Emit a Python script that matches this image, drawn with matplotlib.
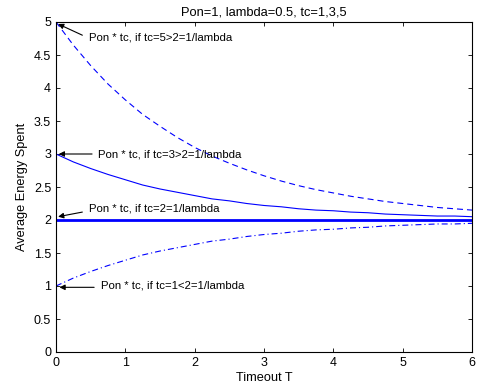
import matplotlib
matplotlib.use("Agg")
import matplotlib.pyplot as plt
from matplotlib.ticker import FormatStrFormatter

plt.rcParams["font.family"] = ["Liberation Sans", "DejaVu Sans"]
plt.rcParams["font.size"] = 9

# values
timeout = [0, 0.25, 0.5, 0.75, 1, 1.25, 1.5, 1.75, 2, 2.25, 2.5, 2.75, 3,
           3.25, 3.5, 3.75, 4, 4.25, 4.5, 4.75, 5, 5.25, 5.5, 5.75, 6]
energy_tc5 = [5.0, 4.65, 4.34, 4.06, 3.82, 3.60, 3.42, 3.25, 3.10, 2.97, 2.86, 2.76, 2.67,
              2.59, 2.52, 2.46, 2.41, 2.36, 2.32, 2.28, 2.25, 2.22, 2.19, 2.17, 2.15]
energy_tc3 = [3.0, 2.88, 2.78, 2.69, 2.61, 2.53, 2.47, 2.42, 2.37, 2.32, 2.29, 2.25, 2.22,
              2.20, 2.17, 2.15, 2.14, 2.12, 2.11, 2.09, 2.08, 2.07, 2.06, 2.06, 2.05]
energy_tc2 = [2.0] * 25
energy_tc1 = [1.0, 1.12, 1.22, 1.31, 1.39, 1.47, 1.53, 1.58, 1.63, 1.68, 1.71, 1.75, 1.78,
              1.80, 1.83, 1.85, 1.86, 1.88, 1.89, 1.91, 1.92, 1.93, 1.94, 1.94, 1.95]

labels = ["Pon * tc, if tc=5>2=1/lambda",
          "Pon * tc, if tc=3>2=1/lambda",
          "Pon * tc, if tc=2=1/lambda",
          "Pon * tc, if tc=1<2=1/lambda"]

fig = plt.figure(figsize=(4.79, 3.87), dpi=100)
ax = fig.add_axes([56 / 479, 35 / 387, 416 / 479, 330 / 387])

blue = (0, 0, 1)
ax.plot(timeout, energy_tc5, color=blue, lw=0.8, linestyle=(0, (5.4, 3.6)))
ax.plot(timeout, energy_tc3, "-", color=blue, lw=0.8)
ax.plot(timeout, energy_tc2, "-", color=blue, lw=2.0)
ax.plot(timeout, energy_tc1, color=blue, lw=0.8, linestyle=(0, (5.4, 2.7, 1, 2.7)))

# annotation text + arrows (text pos, arrow tail, arrow head)
notes = [
    ((0.476, 4.76), (0.38, 4.80), (0.03, 4.97)),
    ((0.606, 2.985), (0.52, 3.0), (0.04, 3.0)),
    ((0.476, 2.17), (0.38, 2.12), (0.03, 2.05)),
    ((0.65, 1.0), (0.55, 0.98), (0.05, 0.98)),
]
for lab, (tpos, tail, head) in zip(labels, notes):
    ax.text(tpos[0], tpos[1], lab, ha="left", va="center", fontsize=8.2)
    ax.annotate("", xy=head, xytext=tail,
                arrowprops=dict(arrowstyle="-|>", color="k", lw=0.8,
                                mutation_scale=8, shrinkA=0, shrinkB=0))

ax.set_xlim(0, 6)
ax.set_ylim(0, 5)
ax.set_xticks(range(0, 7))
ax.set_yticks([i * 0.5 for i in range(11)])
ax.yaxis.set_major_formatter(FormatStrFormatter("%g"))
ax.tick_params(direction="in", top=True, right=True, length=3, width=0.6, labelsize=9)
for s in ax.spines.values():
    s.set_linewidth(0.8)

ax.set_xlabel("Timeout T", fontsize=9.2, labelpad=2)
ax.set_ylabel("Average Energy Spent", fontsize=9.2, labelpad=4)
ax.set_title("Pon=1, lambda=0.5, tc=1,3,5", fontsize=9.3, pad=5)

fig.savefig("out.png", dpi=100)
